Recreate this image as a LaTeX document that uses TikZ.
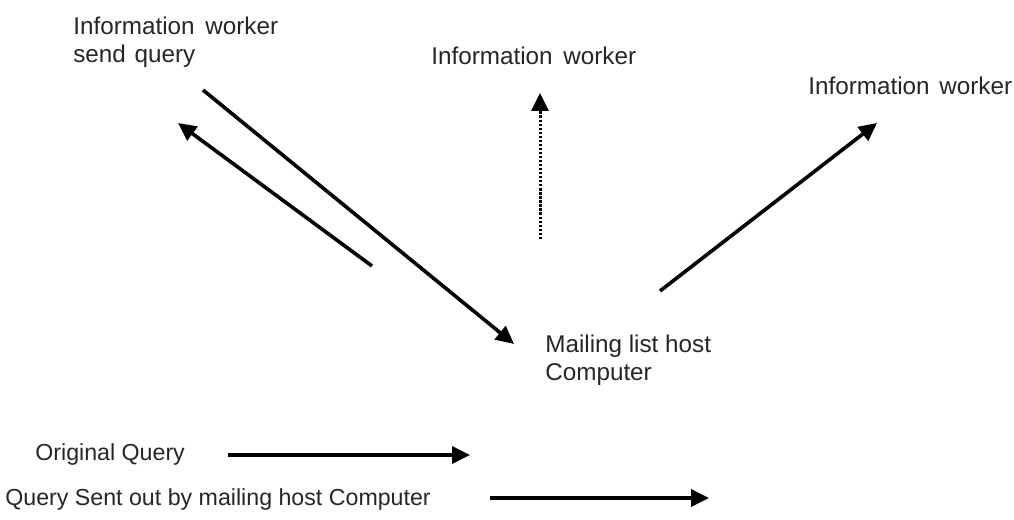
\documentclass[tikz,border=0pt]{standalone}
\usepackage{fontspec}
\setmainfont{Liberation Sans}
\usetikzlibrary{arrows.meta,positioning}
\tikzstyle{txt} = [anchor=base west, inner sep=0pt, text=black!85,
    font=\fontsize{13.8}{16}\selectfont]
\tikzstyle{keytxt} = [txt, font=\fontsize{13.2}{16}\selectfont]
\tikzstyle{flow} = [-{Triangle[length=0.36cm,width=0.34cm]}, line width=0.072cm]
\tikzstyle{dots} = [flow, line width=0.06cm,
    dash pattern=on 1.3pt off 1.0pt]

\begin{document}
\begin{tikzpicture}[x=0.02cm, y=-0.02cm]
    \useasboundingbox (0,0) rectangle (1014,520);
    % labels
    \node (askerA) [txt] at (73,35) {Information\hspace{0.08cm} worker};
    \node (askerB) [txt] at (73,63) {send\hspace{0.04cm} query};
    \node (reader) [txt] at (431,65) {Information\hspace{0.08cm} worker};
    \node (answerer) [txt] at (808,95) {Information\hspace{0.06cm} worker};
    \node (hostA) [txt] at (545,352) {Mailing list host};
    \node (hostB) [txt] at (545,380) {Computer};
    \node (keyorig) [keytxt] at (35,460) {Original Query};
    \node (keysent) [keytxt] at (5,505) {Query Sent out by mailing host Computer};

    % arrow ends
    \coordinate (qstart) at (203,90);
    \coordinate (host) at (514,344);
    \coordinate (back) at (372,266);
    \coordinate (backtip) at (178,123);
    \coordinate (readfoot) at (540,239);
    \coordinate (readtip) at (540,93);
    \coordinate (ansfoot) at (660,291);
    \coordinate (anstip) at (877,123);
    \coordinate (origA) at (228,455);
    \coordinate (origB) at (470,455);
    \coordinate (sentA) at (490,498);
    \coordinate (sentB) at (709,498);

    \draw [flow] (qstart) -- (host);
    \draw [flow] (back) -- (backtip);
    \draw [dots] (readfoot) -- (readtip);
    \draw [flow] (ansfoot) -- (anstip);
    \draw [flow] (origA) -- (origB);
    \draw [flow] (sentA) -- (sentB);
\end{tikzpicture}
\end{document}
